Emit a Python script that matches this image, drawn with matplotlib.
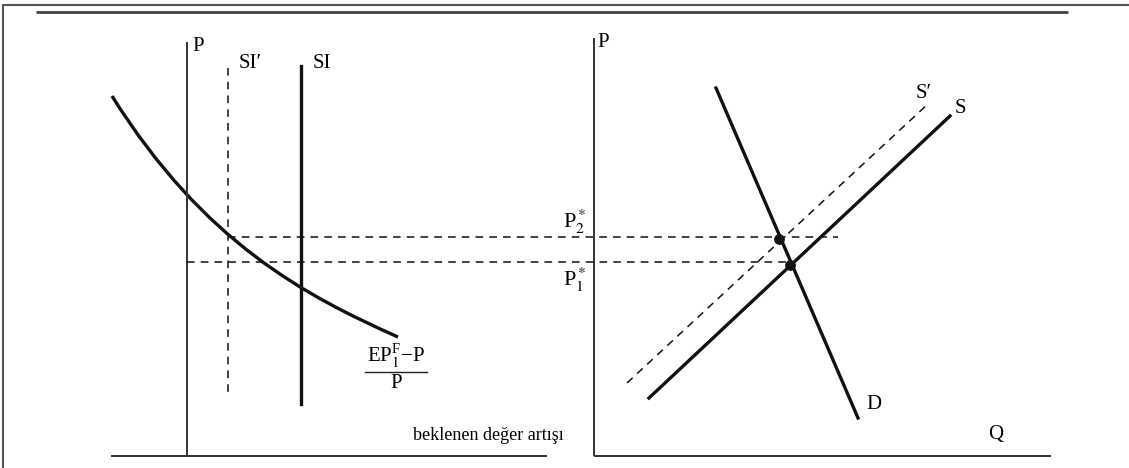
import numpy as np
import matplotlib.pyplot as plt
from matplotlib.path import Path
from matplotlib.patches import PathPatch

plt.rcParams['font.family'] = ['Liberation Serif', 'DejaVu Serif']
plt.rcParams['mathtext.fontset'] = 'stix'

# diagram coordinates (pixel-like units, y grows downward)
frame_x = [3, 3, 1129]
frame_y = [468, 5, 5]
rule_x = [36, 1068]
rule_y = 12

# left panel
left_axis_x = 187
left_axis_top = 42
left_base_x = [111, 547]
base_y = 456
si_x, si_top, si_bottom = 301, 66, 404
si2_x, si2_top, si2_bottom = 228, 68, 392
# bezier control points of the (EP1F - P)/P curve
curve_pts = [(112, 96), (204, 243), (306, 296), (398, 337)]

# right panel
right_axis_x = 594
right_axis_top = 38
right_base_x = [594, 1051]
demand_x = [716, 858]
demand_y = [88, 418]
supply_x = [649, 950]
supply_y = [398, 116]
supply2_x = [627, 929]
supply2_y = [383, 103]
p1_y, p2_y = 262, 237
p1_line_x = [187, 790]
p2_line_x = [228, 838]
eq_x = [790, 779]
eq_y = [265, 239]

fig = plt.figure(figsize=(11.29, 4.68), dpi=100)
ax = fig.add_axes([0, 0, 1, 1])
ax.set_xlim(0, 1129)
ax.set_ylim(468, 0)
ax.axis('off')

# frame and top rule
ax.plot(frame_x, frame_y, color='#555555', lw=1.5, solid_capstyle='butt')
ax.plot(rule_x, [rule_y, rule_y], color='#444444', lw=2, solid_capstyle='butt')

axis_kw = dict(color='#333333', lw=1.4, solid_capstyle='butt')
ax.plot([left_axis_x, left_axis_x], [left_axis_top, base_y], **axis_kw)
ax.plot(left_base_x, [base_y, base_y], **axis_kw)
ax.plot([right_axis_x, right_axis_x], [right_axis_top, base_y], **axis_kw)
ax.plot(right_base_x, [base_y, base_y], **axis_kw)

dash_kw = dict(color='#111111', lw=1.1, dashes=(5, 4))
ax.plot([si2_x, si2_x], [si2_top, si2_bottom], **dash_kw)
ax.plot([si_x, si_x], [si_top, si_bottom], color='#111111', lw=2.4)

codes = [Path.MOVETO, Path.CURVE4, Path.CURVE4, Path.CURVE4]
ax.add_patch(PathPatch(Path(curve_pts, codes), fill=False,
                       edgecolor='#111111', lw=2.4))

ax.plot(p1_line_x, [p1_y, p1_y], **dash_kw)
ax.plot(p2_line_x, [p2_y, p2_y], **dash_kw)

ax.plot(demand_x, demand_y, color='#111111', lw=2.4)
ax.plot(supply_x, supply_y, color='#111111', lw=2.4)
ax.plot(supply2_x, supply2_y, **dash_kw)
ax.scatter(eq_x, eq_y, s=45, color='#111111', zorder=5)

fs = 15
ax.text(192, 37, 'P', fontsize=fs, va='top', ha='left')
ax.text(597, 33, 'P', fontsize=fs, va='top', ha='left')
ax.text(239, 54, 'SI\u2032', fontsize=fs, va='top', ha='left')
ax.text(313, 54, 'SI', fontsize=fs, va='top', ha='left')
ax.text(916, 84, 'S\u2032', fontsize=fs, va='top', ha='left')
ax.text(955, 99, 'S', fontsize=fs, va='top', ha='left')
ax.text(866, 395, 'D', fontsize=fs, va='top', ha='left')
ax.text(988, 425, 'Q', fontsize=fs, va='top', ha='left')
ax.text(587, 222, r'$\mathregular{P}_2^*$', fontsize=16, va='center', ha='right')
ax.text(587, 280, r'$\mathregular{P}_1^*$', fontsize=16, va='center', ha='right')
ax.text(396, 356, r'$\mathregular{EP}_1^\mathregular{F}\mathregular{-P}$', fontsize=fs,
        va='center', ha='center')
ax.plot([365, 427], [372, 372], color='#222222', lw=1)
ax.text(396, 383, 'P', fontsize=fs, va='center', ha='center')
ax.text(564, 436, 'beklenen değer artışı', fontsize=13, va='center', ha='right')

fig.savefig('out.png', dpi=100)
